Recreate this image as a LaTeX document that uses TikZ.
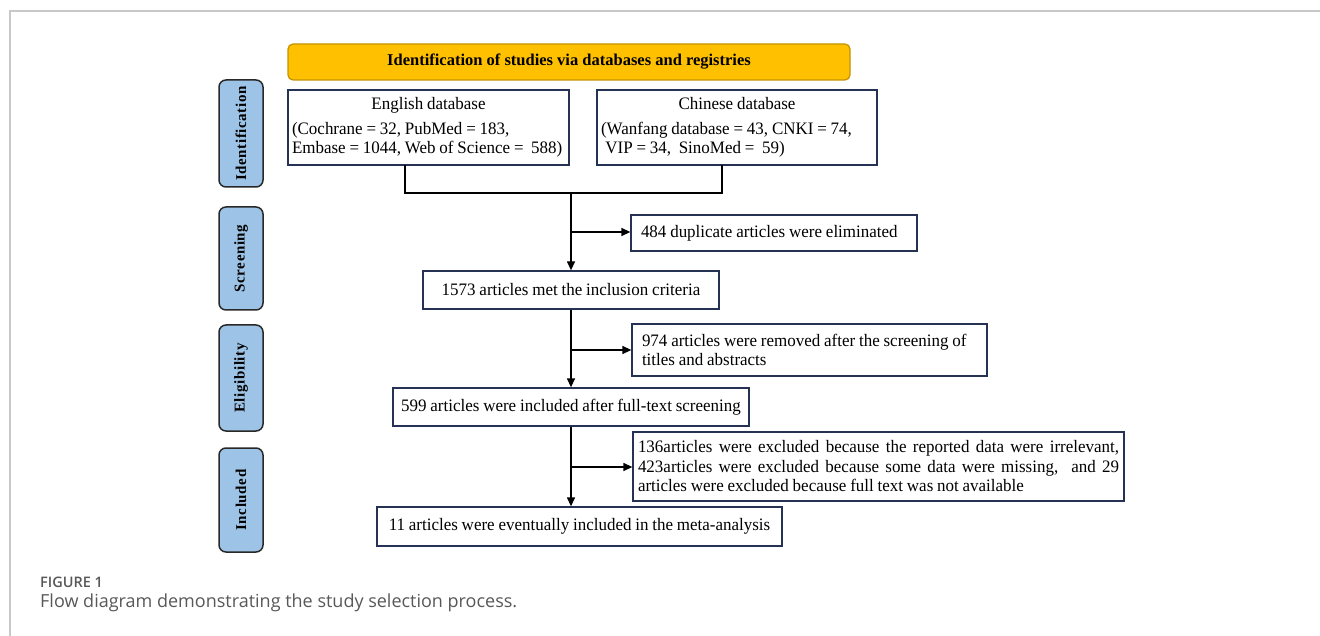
\documentclass[tikz,border=0pt]{standalone}
\usepackage{fontspec}
\setmainfont{Liberation Serif}
\newfontfamily\boxfont{Liberation Serif}[FakeStretch=0.97, WordSpace=0.9]
\newfontfamily\capfont{Open Sans}
\newfontfamily\capfontb{Open Sans Semibold}
\newcommand\myboxsetup{\boxfont\fontsize{17.5}{19.5}\selectfont\hyphenpenalty10000\relax\exhyphenpenalty10000\relax}
\newcommand\nsp{\spaceskip0pt\relax\xspaceskip0pt\relax}
\usetikzlibrary{arrows.meta,positioning,calc}
\definecolor{banfill}{RGB}{255,192,0}
\definecolor{bandraw}{RGB}{196,146,0}
\definecolor{sidefill}{RGB}{157,195,230}
\definecolor{sidedraw}{RGB}{40,40,40}
\definecolor{boxdraw}{RGB}{38,50,84}
\definecolor{capgray}{RGB}{88,88,88}
\definecolor{framegray}{RGB}{200,200,200}
\tikzset{
  mainbox/.style={draw=boxdraw, line width=1.3pt, fill=white, inner sep=0pt, font=\myboxsetup},
  sidebox/.style={draw=sidedraw, fill=sidefill, line width=1.5pt, rounded corners=7pt, minimum width=44pt, inner sep=0pt},
  sidetext/.style={rotate=90, font=\fontsize{15}{16}\selectfont\bfseries\addfontfeatures{LetterSpace=4}},
  conn/.style={line width=1.3pt, black},
  arr/.style={conn, -{Triangle[length=9pt,width=8pt]}}
}
\begin{document}
\begin{tikzpicture}[x=1pt,y=-1pt]
\useasboundingbox (0,0) rectangle (1320,636);
% frame
\draw[framegray, line width=1.2pt] (10,636) -- (10,11) -- (1320,11);
% banner
\node[draw=bandraw, fill=banfill, line width=1.2pt, rounded corners=5pt, minimum width=562pt, minimum height=36pt, inner sep=0pt, font=\fontsize{16.5}{18}\selectfont\bfseries] (ban) at (569,62) {Identification of studies via databases and registries};
% side labels
\node[sidebox, minimum height=107pt] (sid) at (241,133.5) {};
\node[sidetext] at (sid.center) {Identification};
\node[sidebox, minimum height=103pt] (sscr) at (241,258.5) {};
\node[sidetext] at (sscr.center) {Screening};
\node[sidebox, minimum height=106pt] (selg) at (241,378) {};
\node[sidetext] at (selg.center) {Eligibility};
\node[sidebox, minimum height=104pt] (sinc) at (241,500) {};
\node[sidetext] at (sinc.center) {Included};
% boxes
\node[mainbox, minimum width=281pt, minimum height=75pt, text width=273pt, align=flush left] (eng) at (428.5,127.5)
  {\nsp\makebox[\linewidth]{English database}\\[5pt](Cochrane = 32, PubMed = 183,\\Embase = 1044, Web of Science =~~588)};
\node[mainbox, minimum width=280pt, minimum height=75pt, text width=272pt, align=flush left] (chi) at (737,127.5)
  {\nsp\makebox[\linewidth]{Chinese database}\\[5pt](Wanfang database = 43, CNKI = 74,\\\hspace*{0.25em}VIP = 34, ~SinoMed = ~59)};
\node[mainbox, minimum width=286pt, minimum height=36pt, text width=266pt, align=flush left] (dup) at (774,233)
  {\nsp 484 duplicate articles were eliminated};
\node[mainbox, minimum width=296pt, minimum height=38pt] (met) at (571,290)
  {1573 articles met the inclusion criteria};
\node[mainbox, minimum width=355pt, minimum height=52pt, text width=335pt, align=flush left] (rem) at (809.5,350)
  {\nsp 974 articles were removed after the screening of\\titles and abstracts};
\node[mainbox, minimum width=356pt, minimum height=38pt] (inc) at (571,407)
  {599 articles were included after full-text screening};
\node[mainbox, minimum width=491pt, minimum height=69pt, text width=481pt, align=justify] (exc) at (878.5,466.5)
  {\nsp 136articles were excluded because the reported data were irrelevant, 423articles were excluded because some data were missing, \ and 29 articles were excluded because full text was not available};
\node[mainbox, minimum width=405pt, minimum height=39pt] (fin) at (579.5,526.5)
  {11 articles were eventually included in the meta-analysis};
% connectors
\coordinate (ea) at (405,165);
\coordinate (ca) at (722,165);
\coordinate (jn) at (571,193);
\draw[conn] (ea) -- (ea |- jn) -- (ca |- jn) -- (ca);
\draw[arr] (jn) -- (jn |- met.north);
\coordinate (b1) at (571,232);
\draw[arr] (b1) -- (dup.west |- b1);
\draw[arr] (met.south) -- (inc.north);
\coordinate (b2) at (571,350);
\draw[arr] (b2) -- (rem.west |- b2);
\draw[arr] (inc.south) -- (inc.south |- fin.north);
\coordinate (b3) at (571,467);
\draw[arr] (b3) -- (exc.west |- b3);
% caption
\node[anchor=base west, inner sep=0pt, text=capgray, font=\capfontb\fontsize{14.5}{16}\selectfont] (figl) at (40,587) {FIGURE 1};
\node[anchor=base west, inner sep=0pt, text=capgray, font=\capfont\fontsize{18}{20}\selectfont] (capt) at (40,607) {Flow diagram demonstrating the study selection process.};
\end{tikzpicture}
\end{document}
